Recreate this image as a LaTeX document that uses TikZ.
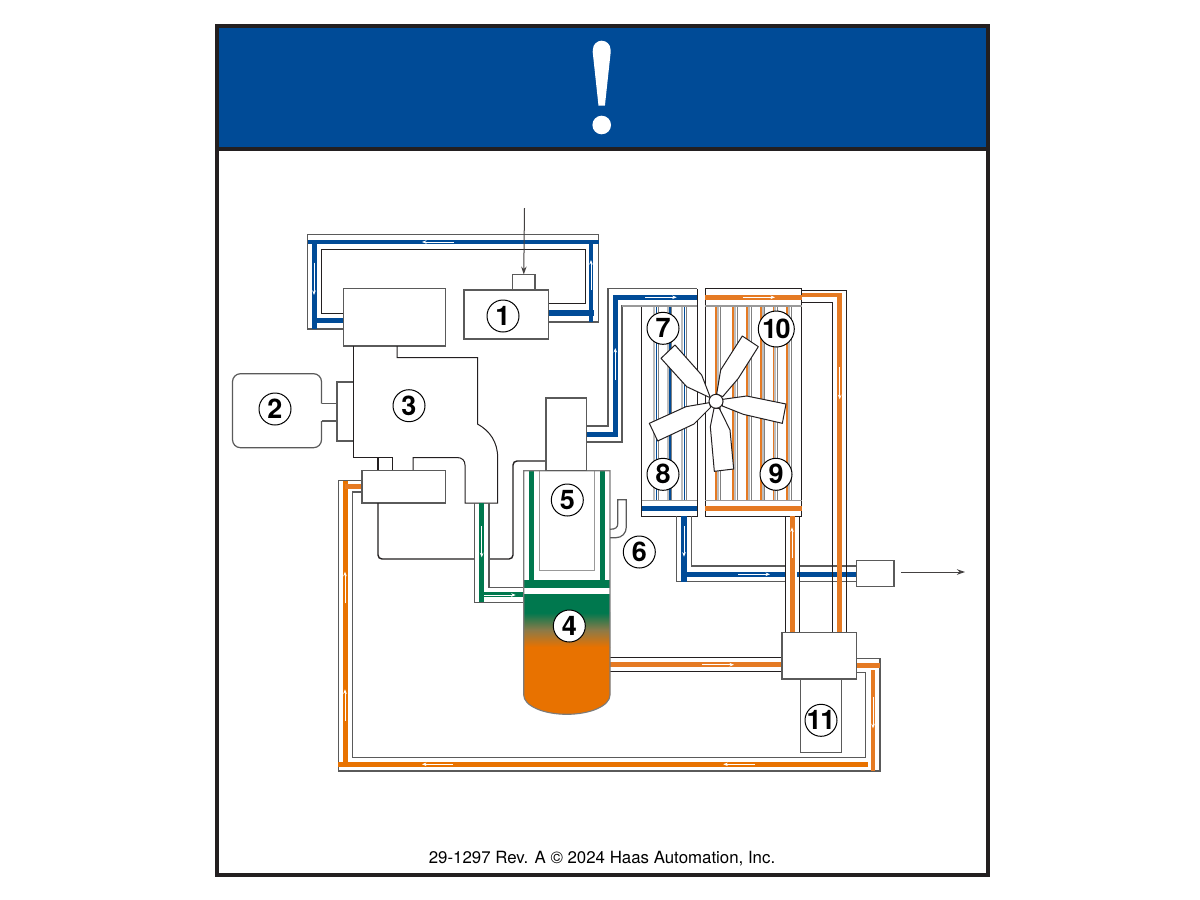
\documentclass[tikz,border=0pt]{standalone}
\usepackage{fontspec}
\setmainfont{TeX Gyre Heros}
\usetikzlibrary{arrows.meta}
\definecolor{hblue}{HTML}{004B97}
\definecolor{horange}{HTML}{E57A23}
\definecolor{tankorange}{HTML}{E87200}
\definecolor{hgreen}{HTML}{00784E}
\definecolor{frameblack}{HTML}{231F20}
\definecolor{linegray}{HTML}{5A5A5A}
\definecolor{silver}{HTML}{BDBDBD}
\tikzset{
  pipeline/.style={draw=linegray,line width=1.2pt,line join=miter},
  darkline/.style={draw=frameblack,line width=1pt,line join=miter},
  blackline/.style={draw=frameblack,line width=1.4pt,rounded corners=4pt},
  lightline/.style={draw=gray!80,line width=1.1pt},
  bluepipe/.style={draw=hblue,line width=5pt},
  orangepipe/.style={draw=horange,line width=5pt},
  greenpipe/.style={draw=hgreen,line width=5pt},
  flowarrow/.style={draw=white,line width=.8pt,-{Stealth[length=4.5pt,width=3.5pt]}},
  mainarrow/.style={draw=frameblack!85,line width=1pt,-{Stealth[length=8pt,width=5.5pt]}},
  pipebox/.style={draw=linegray,line width=1.2pt,fill=white,inner sep=0pt,outer sep=0pt},
  num/.style={circle,draw=black,line width=1pt,fill=white,inner sep=0pt,minimum size=32pt,
     font=\fontsize{27}{27}\selectfont\bfseries},
  blade/.style={draw=frameblack,line width=1pt,fill=white,line join=round}
}
\newcommand{\pbox}[5]{%
  \pgfmathsetmacro\pw{#4-#2}\pgfmathsetmacro\ph{#5-#3}%
  \pgfmathsetmacro\cx{(#2+#4)/2}\pgfmathsetmacro\cy{(#3+#5)/2}%
  \node[pipebox,minimum width=\pw pt,minimum height=\ph pt] (#1) at (\cx,\cy) {};}
\newcommand{\bluetube}[1]{%
  \draw[draw=silver,line width=2.2pt] (#1-2.3,306)--(#1-2.3,500.7);
  \draw[draw=hblue,line width=1.5pt] (#1,306)--(#1,500.7);
  \draw[draw=gray,line width=.7pt] (#1+1.6,306)--(#1+1.6,500.7);}
\newcommand{\orangetube}[1]{%
  \draw[draw=silver,line width=2pt] (#1+1,306)--(#1+1,500.7);
  \draw[draw=horange,line width=1.6pt] (#1-.8,306)--(#1-.8,500.7);
  \draw[draw=gray,line width=.8pt] (#1+3,306)--(#1+3,500.7);}
\begin{document}
\begin{tikzpicture}[x=1pt,y=-1pt]
\useasboundingbox (0,0) rectangle (1200,900);
\fill[white] (0,0) rectangle (1200,900);
% header
\fill[hblue] (216,26) rectangle (988,149);
\draw[draw=frameblack,line width=3.8pt] (216.7,25.8) rectangle (987.7,874.6);
\draw[draw=frameblack,line width=3.8pt] (216.7,149) -- (987.7,149);
\fill[white] (592.9,49.5) arc[start angle=180,end angle=0,radius=8.8pt] -- (610.7,52)
  -- (604.9,105.7) -- (598.5,105.7) -- (592.7,52) -- cycle;
\fill[white] (601.7,125) circle (9.3pt);
\node[font=\fontsize{16.85}{17}\selectfont,inner sep=0pt] (footer) at (602,858.5) {29-1297 Rev. A © 2024 Haas Automation, Inc.};

% upper blue loop
\draw[pipeline] (343.5,329)--(307.5,329)--(307.5,234.5)--(598.5,234.5)--(598.5,322)--(548.5,322);
\draw[darkline] (343.5,313)--(321.5,313)--(321.5,249.5)--(585,249.5)--(585,303)--(548.5,303);
\draw[bluepipe,line width=4.5pt] (307.5,242)--(598.5,242);
\draw[bluepipe] (314,242)--(314,329);
\draw[bluepipe] (314,320.7)--(343.5,320.7);
\draw[bluepipe,line width=4.5pt] (591,242)--(591,322);
\draw[bluepipe,line width=6pt] (548.5,313)--(594,313);
\draw[flowarrow] (453.7,242)--(422,242);
\draw[flowarrow] (314,262.7)--(314,295);
\draw[flowarrow] (591,290)--(591,260);

% boxes upper
\pbox{topbox}{343.5}{288.7}{445.5}{346}
\pbox{inletcap}{512.5}{274.5}{535}{290}
\pbox{comp}{464}{290}{548.5}{339}
\coordinate (inletstart) at (524.5,208);
\draw[mainarrow] (inletstart) -- (inletcap.north);

% motor 2 and coupling
\draw[pipeline] (321.5,403.7)--(337,403.7) (321.5,421)--(337,421);
\draw[pipeline] (353.5,382)--(337,382)--(337,441)--(353.5,441);
\draw[pipeline,rounded corners=8pt] (321.5,403.7)--(321.5,373.7)--(232.5,373.7)--(232.5,447.7)--(321.5,447.7)--(321.5,421);
% compressor body 3
\draw[darkline] (353.5,346)--(353.5,457.5)--(392.7,457.5)--(392.7,471);
\draw[darkline] (413,471)--(413,457.5)
  --(457,457.5) .. controls (462,457.5) and (465,460.5) .. (465,465)
  --(465,503)--(497.7,503)--(497.7,458) .. controls (497.7,442) and (490,431) .. (477.5,424)
  --(477.5,357.5)--(397,357.5)--(397,346);
\draw[draw=frameblack,line width=1.4pt] (378,457.5)--(378,471);

% lower-left orange return
\draw[pipeline] (362,480.7)--(338.3,480.7)--(338.3,771)--(880,771)--(880,658.3)--(856.7,658.3);
\draw[pipeline] (362,492)--(352.3,492)--(352.3,757.7)--(865.7,757.7)--(865.7,672.3)--(856.7,672.3);
\draw[draw=tankorange,line width=5pt] (345,480.7)--(345,764);
\draw[orangepipe] (345,486.3)--(362,486.3);
\draw[draw=tankorange,line width=5pt] (338.3,764)--(868,764);
\draw[orangepipe] (856.7,665)--(880,665);
\draw[orangepipe,line width=4.5pt] (873,670)--(873,771);
\draw[flowarrow] (345,603.3)--(345,571.7);
\draw[flowarrow] (345,720.7)--(345,689.3);
\draw[flowarrow] (755,764.3)--(723.3,764.3);
\draw[flowarrow] (453,764.3)--(422,764.3);
\draw[flowarrow] (873,696.7)--(873,728.3);

% box under body, black lines
\pbox{sepbox}{362}{470.7}{445.5}{503}
\draw[blackline] (378,503)--(378,559)--(474.3,559);
\draw[blackline] (489,559)--(513,559)--(513,461)--(546,461);

% green pipe
\draw[pipeline] (474.3,503)--(474.3,602.3)--(523.7,602.3);
\draw[pipeline] (489,503)--(489,587.3)--(523.7,587.3);
\draw[greenpipe] (481.7,503)--(481.7,602.3);
\draw[greenpipe] (481.7,594.7)--(523.7,594.7);
\draw[flowarrow] (481.7,526)--(481.7,557.3);
\draw[flowarrow] (484.3,595)--(515.7,595);

% outlet pipe tank to valve
\draw[darkline] (610,657)--(782,657) (610,671.3)--(782,671.3);
\draw[orangepipe,line width=4.5pt] (610,664.7)--(782,664.7);
\draw[flowarrow] (702,664.7)--(734,664.7);

% tank
\fill[white] (523.7,470.7) rectangle (610,594);
\fill[hgreen] (523.7,579.7) rectangle (610,587.7);
\draw[greenpipe] (531.7,470.7)--(531.7,580);
\draw[greenpipe] (602.3,470.7)--(602.3,580);
\draw[lightline] (539.7,470.7)--(539.7,570.7)--(594.3,570.7)--(594.3,470.7);
\fill[hgreen] (523.7,594) rectangle (610,613);
\shade[top color=hgreen,bottom color=tankorange,middle color={rgb,255:red,140;green,122;blue,72}] (523.7,612.8) rectangle (610,647);
\fill[tankorange] (523.7,646.8) -- (610,646.8) -- (610,695) arc[start angle=0,end angle=-180,x radius=43.15pt,y radius=19.3pt] -- cycle;
\draw[draw=linegray!80,line width=1.1pt] (523.7,470.7) -- (610,470.7) -- (610,695) arc[start angle=0,end angle=-180,x radius=43.15pt,y radius=19.3pt] -- cycle;
\pbox{recv}{546}{398}{586.7}{470.7}

% part 6 hook
\draw[pipeline] (610,537.7)--(616,537.7) .. controls (622,537.7) and (626.3,533) .. (626.3,527)
  --(626.3,499.7)--(617.7,499.7)--(617.7,524) .. controls (617.7,527) and (616,529.3) .. (610,529.3);

% blue pipe to left radiator
\draw[pipeline] (586.7,426)--(608,426)--(608,288.7)--(697,288.7);
\draw[pipeline] (586.7,442)--(622,442)--(622,306)--(641.7,306);
\draw[bluepipe] (586.7,434)--(618,434);
\draw[bluepipe] (615.5,434)--(615.5,297.3);
\draw[bluepipe] (613,297.3)--(697,297.3);
\draw[flowarrow] (615.3,380)--(615.3,348);
\draw[flowarrow] (645,297.3)--(676.7,297.3);

% tubes
\bluetube{656.3}\bluetube{670}\bluetube{684.3}
\orangetube{717}\orangetube{734}\orangetube{748}\orangetube{761.7}\orangetube{774.3}\orangetube{788}

% left radiator
\draw[darkline] (641.7,306)--(641.7,516.3)--(697,516.3)--(697,288.7);
\draw[lightline] (622,306)--(697,306) (641.7,500.7)--(697,500.7);
\draw[bluepipe,line width=5.5pt] (641.7,508.7)--(697,508.7);
% right radiator
\draw[darkline] (705.3,288.7) rectangle (801.7,516.3);
\draw[lightline] (705.3,306)--(801.7,306) (705.3,500.7)--(801.7,500.7);
\draw[orangepipe] (705.3,297.3)--(801.7,297.3);
\draw[orangepipe,line width=5.5pt] (705.3,508.7)--(801.7,508.7);
\draw[flowarrow] (743.3,297.3)--(775,297.3);

% lower blue pipe
\draw[pipeline] (676.3,516.3)--(676.3,581.7)--(856.3,581.7);
\draw[pipeline] (691.7,516.3)--(691.7,566)--(856.3,566);
\draw[bluepipe,line width=5.5pt] (684,516.3)--(684,581.7);
\draw[bluepipe] (681,574.3)--(856.3,574.3);
\draw[flowarrow] (684,526)--(684,556.7);
\draw[flowarrow] (738.3,574.3)--(770,574.3);

% orange risers
\fill[white] (785.3,516.8) rectangle (799.3,632);
\draw[draw=hblue,line width=5pt] (796.7,574.3)--(799.3,574.3);
\draw[darkline] (785.3,516.3)--(785.3,632.3) (799.3,516.3)--(799.3,632.3);
\draw[orangepipe] (792,516.3)--(792,632.3);
\draw[flowarrow] (792,558.3)--(792,527.3);

\draw[darkline] (801.7,290)--(846.7,290)--(846.7,632.3);
\draw[darkline] (801.7,302.7)--(832.5,302.7)--(832.5,632.3);
\draw[orangepipe,line width=4.5pt] (801.7,295)--(842,295);
\draw[orangepipe,line width=4.5pt] (839.7,293)--(839.7,632.3);
\draw[flowarrow] (839.7,367.3)--(839.7,399.3);

% valve, oil cooler box, exit box
\pbox{cooler}{800.3}{679}{841.7}{752.7}
\pbox{valve}{782}{632.3}{856.7}{679}
\pbox{exitbox}{856.3}{560.7}{894}{586.3}
\coordinate (exitend) at (965,572);
\coordinate (exitstart) at (901,572);
\draw[mainarrow] (exitstart) -- (exitend);

% numbers
\node[num] (n1) at (503,316) {1};
\node[num] (n2) at (275,409) {2};
\node[num] (n3) at (409,405.7) {3};
\node[num] (n4) at (569.3,626) {4};
\node[num] (n5) at (567.3,500) {5};
\node[num] (n6) at (639.3,552) {6};
\node[num] (n7) at (663,328.3) {7};
\node[num] (n8) at (663,474.3) {8};
\node[num] (n9) at (776,474.3) {9};
\node[num,minimum size=36pt] (n10) at (776.3,329) {\makebox[0pt]{1\kern-1.5pt 0}};
\node[num] (n11) at (821,720.3) {\makebox[0pt]{1\kern-1.5pt 1}};

% fan
\begin{scope}[shift={(590,280)},x=.33333pt,y=-.33333pt]
\draw[blade] (360,350)--(335,285)--(255,195)--(213,235)--(290,320)--(358,352)--cycle;
\draw[blade] (380,342)--(392,270)--(457,168)--(505,200)--(445,295)--(398,350)--cycle;
\draw[blade] (398,358)--(470,348)--(588,372)--(577,430)--(460,403)--(397,378)--cycle;
\draw[blade] (388,385)--(420,450)--(431,567)--(373,574)--(361,440)--(372,385)--cycle;
\draw[blade] (358,368)--(288,380)--(178,430)--(203,483)--(312,432)--(362,382)--cycle;
\end{scope}
\node[circle,draw=frameblack,line width=1pt,fill=white,inner sep=0pt,minimum size=14pt] (hub) at (716,401.3) {};
\end{tikzpicture}
\end{document}
